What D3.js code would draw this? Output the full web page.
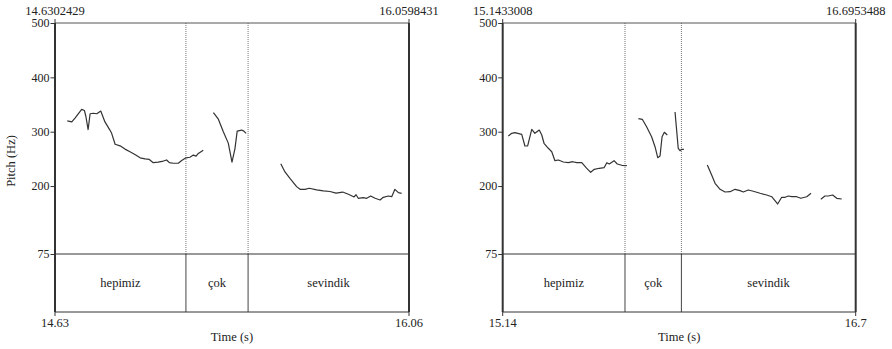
<!DOCTYPE html>
<html>
<head>
<meta charset="utf-8">
<script src="https://cdn.jsdelivr.net/npm/d3@7"></script>
<style>
  html, body { margin: 0; padding: 0; background: #fff; }
  svg { display: block; }
  text { font-family: "Liberation Serif", "Times New Roman", serif; fill: #222; }
</style>
</head>
<body>
<svg id="chart" width="892" height="349"></svg>
<script>
// Pitch axis ticks (Hz) and range
const pitchTicks = [75, 200, 300, 400, 500];
const pitchRange = [75, 500];

// Left utterance: time window, interval boundaries, words and pitch contour pieces [time s, Hz]
const leftWindow = [14.6302429, 16.0598431];
const leftTickLabels = ["14.63", "16.06"];
const leftBoundaries = [15.159, 15.410];
const leftWords = ["hepimiz", "çok", "sevindik"];
const leftPitch = [
  [[14.680,320],[14.698,318],[14.711,325],[14.738,341],[14.749,339],[14.755,328],[14.764,304],
   [14.772,333],[14.785,334],[14.799,333],[14.815,338],[14.832,318],[14.852,303],[14.859,297],
   [14.873,277],[14.893,274],[14.913,268],[14.933,263],[14.953,258],[14.974,252],[14.994,250],
   [15.011,249],[15.027,243],[15.047,244],[15.068,246],[15.081,248],[15.092,243],[15.108,242],
   [15.128,242],[15.142,247],[15.159,252],[15.175,253],[15.189,257],[15.200,255],[15.209,260],
   [15.229,266]],
  [[15.270,335],[15.290,323],[15.310,300],[15.330,279],[15.345,244],[15.357,269],[15.366,301],
   [15.384,303],[15.393,301],[15.402,297]],
  [[15.542,241],[15.559,226],[15.579,214],[15.606,199],[15.620,194],[15.640,194],[15.657,196],
   [15.687,193],[15.714,191],[15.741,190],[15.765,187],[15.792,189],[15.815,185],[15.838,180],
   [15.846,184],[15.855,177.5],[15.875,178.6],[15.889,177.5],[15.905,181.7],[15.923,177.5],
   [15.943,174.4],[15.956,179.3],[15.976,181.7],[15.990,180.4],[16.003,194],[16.017,187.8],
   [16.030,186.7]]
];

// Right utterance
const rightWindow = [15.1433008, 16.6953488];
const rightTickLabels = ["15.14", "16.7"];
const rightBoundaries = [15.681, 15.929];
const rightWords = ["hepimiz", "çok", "sevindik"];
const rightPitch = [
  [[15.168,292],[15.183,297],[15.197,298.2],[15.227,295.2],[15.241,273.7],[15.253,274],
   [15.271,304.4],[15.285,297],[15.304,303.1],[15.315,294],[15.325,278.7],[15.344,269.5],
   [15.359,263.2],[15.373,246.7],[15.388,248],[15.410,244.3],[15.432,243],[15.451,244.8],
   [15.469,243],[15.491,243],[15.510,233.8],[15.530,225.3],[15.546,230.8],[15.568,232.7],
   [15.589,233.8],[15.601,243],[15.612,240.6],[15.633,246.7],[15.647,240.6],[15.667,238.2],
   [15.689,237.5]],
  [[15.740,323.9],[15.757,322.8],[15.776,309.2],[15.798,290.8],[15.813,272.4],[15.825,252.2],
   [15.835,255.3],[15.844,290.8],[15.854,298.9],[15.867,294]],
  [[15.901,336.3],[15.908,303.1],[15.915,269.5],[15.923,265.1],[15.930,267.6],[15.940,267.6]],
  [[16.043,238.7],[16.062,220.3],[16.077,205.1],[16.099,194],[16.121,189.1],[16.143,189.6],
   [16.165,194],[16.187,191.5],[16.201,189.1],[16.223,192.8],[16.245,190.4],[16.275,186.7],
   [16.304,183.5],[16.326,180.4],[16.352,167],[16.370,179.3],[16.385,179.3],[16.399,181.7],
   [16.414,180.4],[16.436,180.4],[16.454,177.5],[16.480,180.4],[16.499,186.7]],
  [[16.542,175.6],[16.560,181.7],[16.575,181.7],[16.594,183.5],[16.612,177.5],[16.634,176.2]]
];

const svg = d3.select("#chart").attr("font-family", "Liberation Serif, serif");
const frameColor = "#333";

function drawPanel(opts) {
  const { x0, x1, yTop, yFloor, yBottom, window: win, tickLabels, boundaries, words, pitch, showYLabel } = opts;
  const g = svg.append("g");
  const x = d3.scaleLinear().domain(win).range([x0, x1]);
  const y = d3.scaleLinear().domain(pitchRange).range([yFloor, yTop]);

  // boundaries in pitch area (dotted)
  boundaries.forEach(b => {
    g.append("line").attr("x1", x(b)).attr("x2", x(b)).attr("y1", yTop).attr("y2", yFloor)
      .attr("stroke", "#777").attr("stroke-width", 1).attr("stroke-dasharray", "1,1");
  });
  // boundaries in tier (solid)
  boundaries.forEach(b => {
    g.append("line").attr("x1", x(b)).attr("x2", x(b)).attr("y1", yFloor).attr("y2", yBottom)
      .attr("stroke", "#444").attr("stroke-width", 1);
  });

  // pitch contour
  const line = d3.line().x(d => x(d[0])).y(d => y(d[1]));
  pitch.forEach(seg => {
    g.append("path").attr("d", line(seg)).attr("fill", "none")
      .attr("stroke", "#333").attr("stroke-width", 1.2).attr("stroke-linejoin", "round");
  });

  // frame: top, floor and bottom lines
  [yTop, yFloor, yBottom].forEach((yy, i) => {
    g.append("line").attr("x1", x0).attr("x2", x1).attr("y1", yy).attr("y2", yy)
      .attr("stroke", i === 0 ? "#555" : frameColor).attr("stroke-width", 1);
  });
  // vertical sides
  [x0, x1].forEach(xx => {
    g.append("line").attr("x1", xx).attr("x2", xx).attr("y1", yTop).attr("y2", yBottom)
      .attr("stroke", frameColor).attr("stroke-width", 2);
  });

  // y axis ticks
  const yAxis = d3.axisLeft(y).tickValues(pitchTicks).tickSize(4).tickPadding(1).tickFormat(d3.format("d"));
  const ya = g.append("g").attr("transform", `translate(${x0 - 0.5},0)`).call(yAxis)
    .attr("font-family", "Liberation Serif, serif");
  ya.select(".domain").remove();
  ya.selectAll("line").attr("stroke", frameColor);
  ya.selectAll("text").attr("font-size", 12).attr("fill", "#222");

  // top window labels with small ticks
  [x0, x1].forEach(xx => {
    g.append("line").attr("x1", xx).attr("x2", xx).attr("y1", yTop - 4).attr("y2", yTop).attr("stroke", frameColor).attr("stroke-width", 1);
  });
  g.append("text").attr("x", x(win[0])).attr("y", 15).attr("text-anchor", "middle").attr("font-size", 12.5).text(win[0].toFixed(7));
  g.append("text").attr("x", x(win[1])).attr("y", 15).attr("text-anchor", "middle").attr("font-size", 12.5).text(win[1].toFixed(7));

  // bottom time labels
  [x0, x1].forEach(xx => {
    g.append("line").attr("x1", xx).attr("x2", xx).attr("y1", yBottom).attr("y2", yBottom + 4).attr("stroke", frameColor).attr("stroke-width", 1);
  });
  g.append("text").attr("x", x0).attr("y", 327).attr("text-anchor", "middle").attr("font-size", 12.5).text(tickLabels[0]);
  g.append("text").attr("x", x1).attr("y", 327).attr("text-anchor", "middle").attr("font-size", 12.5).text(tickLabels[1]);
  g.append("text").attr("x", (x0 + x1) / 2).attr("y", 341).attr("text-anchor", "middle").attr("font-size", 12.5).text("Time (s)");

  // interval words
  const edges = [win[0], ...boundaries, win[1]];
  words.forEach((w, i) => {
    g.append("text").attr("x", (x(edges[i]) + x(edges[i + 1])) / 2).attr("y", (yFloor + yBottom) / 2 + 4)
      .attr("text-anchor", "middle").attr("font-size", 12.5).text(w);
  });

  if (showYLabel) {
    g.append("text").attr("transform", `translate(15,161) rotate(-90)`)
      .attr("text-anchor", "middle").attr("font-size", 12.5).text("Pitch (Hz)");
  }
}

drawPanel({ x0: 55, x1: 409, yTop: 23, yFloor: 254, yBottom: 312,
  window: leftWindow, tickLabels: leftTickLabels, boundaries: leftBoundaries,
  words: leftWords, pitch: leftPitch, showYLabel: true });
drawPanel({ x0: 502.7, x1: 855.7, yTop: 23, yFloor: 254, yBottom: 312,
  window: rightWindow, tickLabels: rightTickLabels, boundaries: rightBoundaries,
  words: rightWords, pitch: rightPitch, showYLabel: false });
</script>
</body>
</html>
